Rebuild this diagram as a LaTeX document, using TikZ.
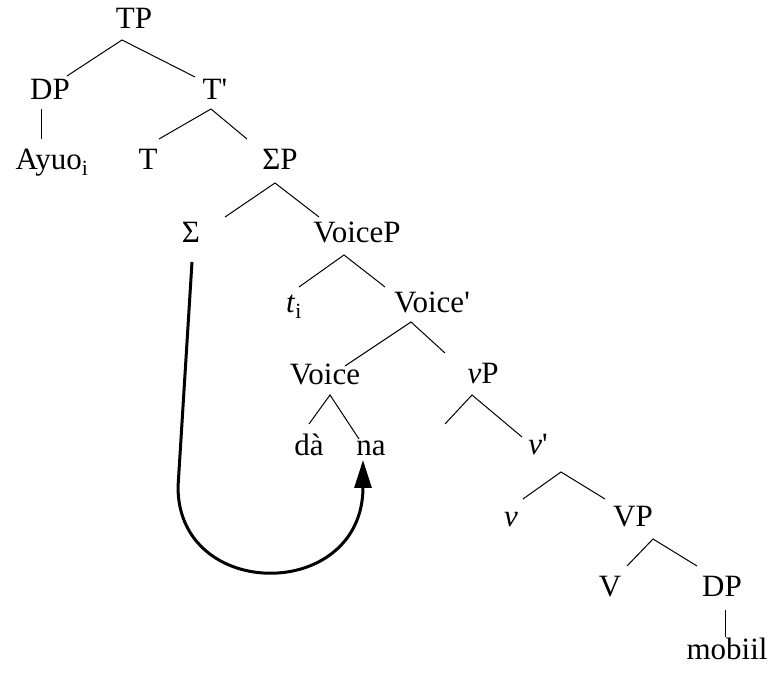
\documentclass[tikz,border=0pt]{standalone}
\usepackage{fontspec}
\setmainfont{Liberation Serif}
\usepackage{tikz}
\usetikzlibrary{arrows.meta,calc}

\begin{document}
\begin{tikzpicture}[
  x=1pt,y=1pt,
  font=\fontsize{31}{37}\selectfont,
  cat/.style={inner sep=0pt, anchor=base},
  branch/.style={line width=1pt, draw=black},
  move/.style={line width=3pt, draw=black, -{Triangle[length=28pt,width=17pt]}}
]
\useasboundingbox (0,0) rectangle (772,675);

% labels, placed on their baselines
\node[cat] (TP) at (134,646) {TP};
\node[cat] (DPa) at (50,575) {DP};
\node[cat] (Tbar) at (215,575) {T\textquotesingle};
\node[cat] (ayuo) at (52,505) {Ayuo\textsubscript{i}};
\node[cat] (T) at (148,505) {T};
\node[cat] (SigmaP) at (280,505) {ΣP};
\node[cat] (Sigma) at (191,432) {Σ};
\node[cat] (VoiceP) at (357,432) {VoiceP};
\node[cat] (trace) at (294,362) {\textit{t}\textsubscript{i}};
\node[cat] (Voicebar) at (432,362) {Voice\textquotesingle};
\node[cat] (Voice) at (325,290) {Voice};
\node[cat] (vP) at (483,291) {\textit{v}P};
\node[cat] (da) at (309,219) {dà};
\node[cat] (na) at (371,219) {na};
\node[cat] (vbar) at (538,220) {\textit{v}\textquotesingle};
\node[cat] (v) at (511,148) {\textit{v}};
\node[cat] (VP) at (633,148) {VP};
\node[cat] (V) at (610,78) {V};
\node[cat] (DPb) at (722,78) {DP};
\node[cat] (mobiil) at (727,15) {mobiil};
\coordinate (vspec) at (445,251);

% branches
\draw[branch] ($(DPa.base)+(17,24)$) -- ($(TP.base)+(-12,-11)$) -- ($(Tbar.base)+(-20,23)$);
\draw[branch] ($(DPa.base)+(-9,-9)$) -- ($(ayuo.base)+(-11,31)$);
\draw[branch] ($(T.base)+(11,31)$) -- ($(Tbar.base)+(-4,-9)$) -- ($(SigmaP.base)+(-33,31)$);
\draw[branch] ($(Sigma.base)+(34,26)$) -- ($(SigmaP.base)+(-5,-13)$) -- ($(VoiceP.base)+(-38,26)$);
\draw[branch] ($(trace.base)+(5,26)$) -- ($(VoiceP.base)+(-13,-12)$) -- ($(Voicebar.base)+(-47,26)$);
\draw[branch] ($(Voice.base)+(20,19)$) -- ($(Voicebar.base)+(-21,-9)$) -- ($(vP.base)+(-38,31)$);
\draw[branch] ($(da.base)+(0,32)$) -- ($(Voice.base)+(5,-10)$) -- ($(na.base)+(-12,17)$);
\draw[branch] (vspec) -- ($(vP.base)+(-11,-11)$) -- ($(vbar.base)+(-16,18)$);
\draw[branch] ($(v.base)+(12,28)$) -- ($(vbar.base)+(23,-17)$) -- ($(VP.base)+(-28,28)$);
\draw[branch] ($(V.base)+(17,31)$) -- ($(VP.base)+(20,-12)$) -- ($(DPb.base)+(-25,31)$);
\draw[branch] ($(DPb.base)+(3,-13)$) -- ($(mobiil.base)+(-2,23)$);

% head movement
\draw[move] ($(Sigma.base)+(1,-19)$) -- (178,188)
  .. controls (178,73) and (363,73) .. (363,188) -- ($(na.base)+(-8,-4)$);

\end{tikzpicture}
\end{document}
